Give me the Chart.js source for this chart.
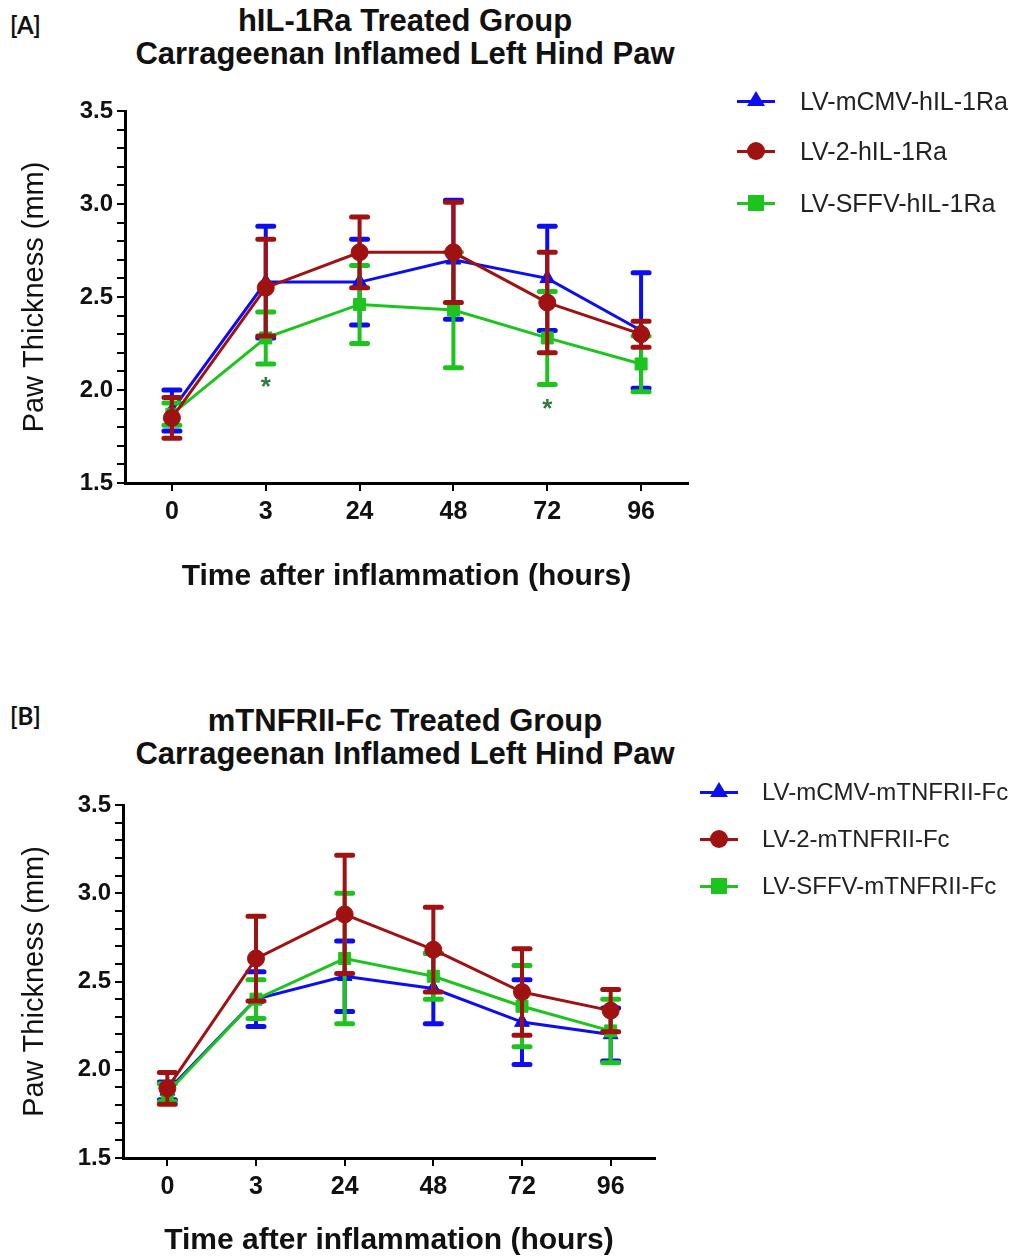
<!DOCTYPE html>
<html>
<head>
<meta charset="utf-8">
<script src="https://cdn.jsdelivr.net/npm/chart.js@4.4.1/dist/chart.umd.min.js"></script>
<style>
  html, body { margin:0; padding:0; background:#fff; }
  #wrap { position:relative; width:1032px; height:1259px; overflow:hidden; background:#fff; }
  .tag { position:absolute; font-family: Lato, "Open Sans", sans-serif; font-weight:700; font-size:24px; color:#111; }
  .title { position:absolute; left:0; width:810px; text-align:center; font-family:"Liberation Sans", Arial, sans-serif; font-weight:700; font-size:31px; line-height:33px; color:#111; }
  .cv { position:absolute; left:0; }
  .legend { position:absolute; font-family:"Liberation Sans", Arial, sans-serif; color:#222; }
  .row { position:absolute; left:0; white-space:nowrap; }
  .ln { position:absolute; left:0; width:38px; height:3px; }
  .mk { position:absolute; }
  .txt { position:absolute; }
</style>
</head>
<body>
<div id="wrap">
  <div class="tag" style="left:10px; top:10px;">[A]</div>
  <div class="title" id="titleA" style="top:4px;"></div>
  <div class="cv" style="top:0;"><canvas id="cA" width="1032" height="620"></canvas></div>
  <div class="legend" id="legA" style="left:737px; top:0;"></div>

  <div class="tag" style="left:10px; top:701px;">[B]</div>
  <div class="title" id="titleB" style="top:704px;"></div>
  <div class="cv" style="top:690px;"><canvas id="cB" width="1032" height="569"></canvas></div>
  <div class="legend" id="legB" style="left:700px; top:0;"></div>
</div>
<script>
// ---------------- data ----------------
const timeLabels = ['0', '3', '24', '48', '72', '96'];

const titleA = ['hIL-1Ra Treated Group', 'Carrageenan Inflamed Left Hind Paw'];
const titleB = ['mTNFRII-Fc Treated Group', 'Carrageenan Inflamed Left Hind Paw'];
const yAxisTitle = 'Paw Thickness (mm)';
const xAxisTitle = 'Time after inflammation (hours)';

const namesA = ['LV-mCMV-hIL-1Ra', 'LV-2-hIL-1Ra', 'LV-SFFV-hIL-1Ra'];
const namesB = ['LV-mCMV-mTNFRII-Fc', 'LV-2-mTNFRII-Fc', 'LV-SFFV-mTNFRII-Fc'];

// Panel A means and error (SEM)
const aMcmv    = [1.89, 2.58, 2.58, 2.70, 2.60, 2.32];
const aMcmvErr = [0.11, 0.30, 0.23, 0.32, 0.28, 0.31];
const aLv2     = [1.85, 2.55, 2.74, 2.74, 2.47, 2.30];
const aLv2Err  = [0.11, 0.26, 0.19, 0.27, 0.27, 0.07];
const aSffv    = [1.87, 2.28, 2.46, 2.43, 2.28, 2.14];
const aSffvErr = [0.06, 0.14, 0.21, 0.31, 0.25, 0.15];

// Panel B means and error (SEM)
const bMcmv    = [1.88, 2.40, 2.53, 2.46, 2.27, 2.20];
const bMcmvErr = [0.05, 0.155, 0.20, 0.20, 0.24, 0.15];
const bLv2     = [1.895, 2.63, 2.88, 2.68, 2.44, 2.335];
const bLv2Err  = [0.09, 0.24, 0.335, 0.24, 0.245, 0.12];
const bSffv    = [1.87, 2.40, 2.63, 2.53, 2.36, 2.22];
const bSffvErr = [0.05, 0.11, 0.37, 0.13, 0.23, 0.18];

// significance asterisks in panel A (category index, y value)
const starIndexA = [1, 4];
const starValueA = [2.04, 1.92];

const yMin = 1.5, yMax = 3.5, yStep = 0.1;

// ---------------- styles ----------------
const seriesColors = ['#0d0df2', '#a01212', '#1ec41e'];
const seriesPoints = ['triangle', 'circle', 'rect'];
const seriesOrder  = [2, 0, 1];   // red on top, then green, then blue

// ---------------- plugins ----------------
const errorBarPlugin = {
  id: 'errorBars',
  beforeDatasetDraw(chart, args) {
    const ds = chart.data.datasets[args.index];
    if (!ds.errors) return;
    const ys = chart.scales.y;
    const ctx = chart.ctx;
    ctx.save();
    ctx.strokeStyle = ds.borderColor;
    ctx.lineCap = 'round';
    args.meta.data.forEach((pt, i) => {
      const v = ds.data[i], e = ds.errors[i];
      const yt = ys.getPixelForValue(v + e), yb = ys.getPixelForValue(v - e);
      ctx.lineWidth = 4;
      ctx.beginPath(); ctx.moveTo(pt.x, yt); ctx.lineTo(pt.x, yb); ctx.stroke();
      ctx.lineWidth = 5;
      ctx.beginPath();
      ctx.moveTo(pt.x - 8, yt); ctx.lineTo(pt.x + 8, yt);
      ctx.moveTo(pt.x - 8, yb); ctx.lineTo(pt.x + 8, yb);
      ctx.stroke();
    });
    ctx.restore();
  }
};

const starPlugin = {
  id: 'stars',
  afterDatasetsDraw(chart, args, opts) {
    if (!opts || !opts.index) return;
    const ctx = chart.ctx;
    ctx.save();
    ctx.fillStyle = '#2f7d3c';
    ctx.font = 'bold 26px "Liberation Sans", Arial, sans-serif';
    ctx.textAlign = 'center';
    ctx.textBaseline = 'middle';
    opts.index.forEach((ix, k) => {
      const x = chart.scales.x.getPixelForValue(ix);
      const y = chart.scales.y.getPixelForValue(opts.value[k]);
      ctx.fillText('*', x, y + 5);
    });
    ctx.restore();
  }
};

function makeDatasets(names, vals, errs) {
  return names.map((n, i) => ({
    label: n,
    data: vals[i],
    errors: errs[i],
    borderColor: seriesColors[i],
    backgroundColor: seriesColors[i],
    pointBackgroundColor: seriesColors[i],
    pointBorderColor: seriesColors[i],
    pointStyle: seriesPoints[i],
    pointRadius: 8.5,
    pointBorderWidth: 1,
    borderWidth: 3,
    tension: 0,
    order: seriesOrder[i]
  }));
}

function makeChart(canvasId, datasets, geom, stars) {
  return new Chart(document.getElementById(canvasId), {
    type: 'line',
    data: { labels: timeLabels, datasets },
    plugins: [errorBarPlugin, starPlugin],
    options: {
      responsive: false,
      animation: false,
      devicePixelRatio: 1,
      layout: { padding: { left: 0, top: geom.top, right: geom.right, bottom: geom.bottom } },
      plugins: {
        legend: { display: false },
        tooltip: { enabled: false },
        title: { display: false },
        stars: stars || {}
      },
      scales: {
        x: {
          type: 'category',
          offset: true,
          afterFit: (s) => { s.height = geom.xh; },
          border: { display: true, color: '#000', width: 3 },
          grid: { display: true, offset: false, drawOnChartArea: false, drawTicks: true, tickLength: 8, color: '#000', lineWidth: 2 },
          ticks: { color: '#111', padding: 6, font: { family: '"Liberation Sans", Arial, sans-serif', size: 25, weight: 'bold' } },
          title: { display: true, text: xAxisTitle, color: '#111', padding: { top: 0, bottom: geom.xtPad }, font: { family: '"Liberation Sans", Arial, sans-serif', size: 30, weight: 'bold' } }
        },
        y: {
          min: yMin, max: yMax,
          afterFit: (s) => { s.width = geom.yw; },
          border: { display: true, color: '#000', width: 3 },
          grid: { display: true, drawOnChartArea: false, drawTicks: true, tickLength: 8, color: '#000', lineWidth: 2 },
          ticks: {
            stepSize: yStep, autoSkip: false, maxTicksLimit: 100, padding: 4, color: '#111',
            font: { family: '"Liberation Sans", Arial, sans-serif', size: 24, weight: 'bold' },
            callback: (v) => (Math.abs(Math.round(v * 10)) % 5 === 0 ? Number(v).toFixed(1) : '')
          },
          title: { display: true, text: yAxisTitle, color: '#111', padding: { top: 18, bottom: 0 }, font: { family: '"Liberation Sans", Arial, sans-serif', size: 29, weight: 'normal' } }
        }
      }
    }
  });
}

function buildTitle(id, lines) {
  document.getElementById(id).innerHTML = lines.map(t => t.replace(/&/g,'&amp;').replace(/</g,'&lt;')).join('<br>');
}

function buildLegend(id, names, rowsY, textX, fontSize) {
  const el = document.getElementById(id);
  names.forEach((n, i) => {
    const row = document.createElement('div');
    row.className = 'row';
    row.style.top = rowsY[i] + 'px';
    const ln = document.createElement('div');
    ln.className = 'ln';
    ln.style.background = seriesColors[i];
    ln.style.top = '-1.5px';
    row.appendChild(ln);
    const mk = document.createElement('div');
    mk.className = 'mk';
    const c = seriesColors[i];
    if (seriesPoints[i] === 'triangle') {
      mk.style.left = '10px'; mk.style.top = '-10px'; mk.style.width = '0'; mk.style.height = '0';
      mk.style.borderLeft = '9px solid transparent'; mk.style.borderRight = '9px solid transparent';
      mk.style.borderBottom = '15px solid ' + c;
    } else if (seriesPoints[i] === 'circle') {
      mk.style.left = '10px'; mk.style.top = '-9px'; mk.style.width = '18px'; mk.style.height = '18px';
      mk.style.borderRadius = '50%'; mk.style.background = c;
    } else {
      mk.style.left = '11px'; mk.style.top = '-8px'; mk.style.width = '16px'; mk.style.height = '16px';
      mk.style.background = c;
    }
    row.appendChild(mk);
    const tx = document.createElement('div');
    tx.className = 'txt';
    tx.style.left = textX + 'px';
    tx.style.fontSize = fontSize + 'px';
    tx.style.lineHeight = fontSize + 'px';
    tx.style.top = (-fontSize / 2) + 'px';
    tx.textContent = n;
    row.appendChild(tx);
    el.appendChild(row);
  });
}

buildTitle('titleA', titleA);
buildTitle('titleB', titleB);
buildLegend('legA', namesA, [101, 151, 203], 63, 25);
buildLegend('legB', namesB, [792, 839, 886], 62, 24);

makeChart('cA',
  makeDatasets(namesA, [aMcmv, aLv2, aSffv], [aMcmvErr, aLv2Err, aSffvErr]),
  { top: 111, right: 1032 - 688, bottom: 17, xh: 120, xtPad: 8, yw: 125 },
  { index: starIndexA, value: starValueA });

makeChart('cB',
  makeDatasets(namesB, [bMcmv, bLv2, bSffv], [bMcmvErr, bLv2Err, bSffvErr]),
  { top: 115, right: 1032 - 655, bottom: 0, xh: 101, xtPad: 0, yw: 123 },
  null);
</script>
</body>
</html>
